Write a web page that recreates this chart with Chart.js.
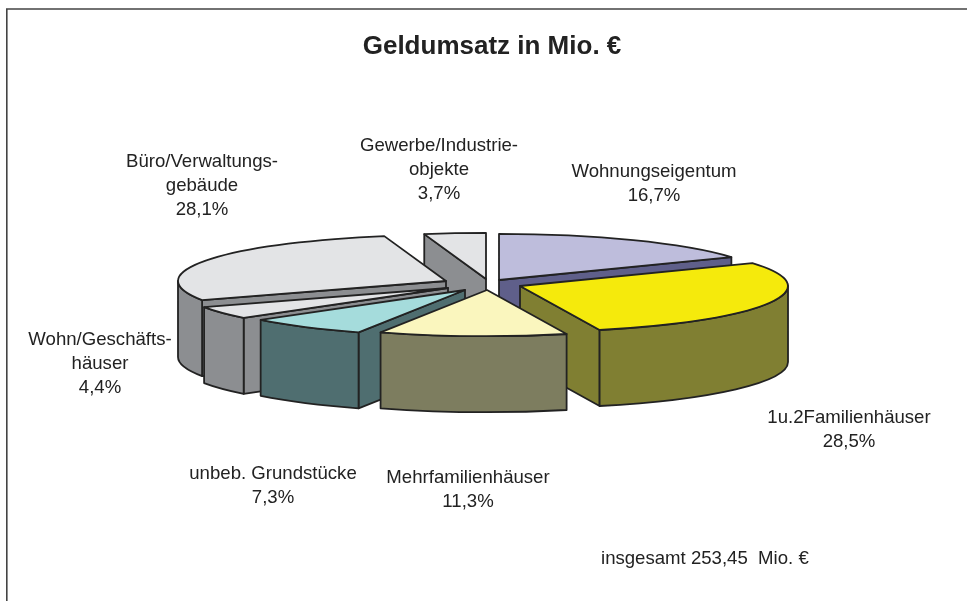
<!DOCTYPE html>
<html><head><meta charset="utf-8">
<style>html,body{margin:0;padding:0;background:#fff}#w{width:967px;height:601px;position:relative}</style>
<script src="https://cdn.jsdelivr.net/npm/chart.js@4"></script>
</head><body><div id="w"><canvas id="c" width="967" height="601"></canvas></div>
<script>
const categories = [["Wohnungseigentum"],["1u.2Familienhäuser"],["Mehrfamilienhäuser"],["unbeb. Grundstücke"],["Wohn/Geschäfts-","häuser"],["Büro/Verwaltungs-","gebäude"],["Gewerbe/Industrie-","objekte"]];
const shares = [16.7,28.5,11.3,7.3,4.4,28.1,3.7];
const titleText = "Geldumsatz in Mio. €";
const noteText = "insgesamt 253,45  Mio. €";
const topColors = ["#BEBDDC","#F5EA0C","#FAF6BE","#A5DCDC","#E3E4E6","#E3E4E6","#E3E4E6"];
const wallColors = ["#5F5F8A","#807F32","#7D7D5F","#4F6E70","#8C8E91","#8C8E91","#8C8E91"];
const explodeX = [12,33,0,-22,-39,-41,-1];
const explodeY = [-5,1,5,5,3,-4,-6];
const labelX = [654,849,468,273,100,202,439];
const labelY = [172,418,478,474,340,162,146];
const paintOrder = [6,0,5,4,1,3,2];
const centerX = 487, centerY = 285, flatten = 0.172, radius = 268, wallDepth = 76;
const outline = "#222222";
const TAU = Math.PI*2, HALF = Math.PI/2;

const pie3d = {
  id:"pie3d",
  beforeDraw(chart){
    const c = chart.ctx;
    c.save(); c.fillStyle="#fff"; c.fillRect(0,0,967,601);
    c.strokeStyle="#444"; c.lineWidth=1.6;
    c.beginPath(); c.moveTo(6.8,601); c.lineTo(6.8,9); c.lineTo(967,9); c.stroke();
    c.restore();
  },
  beforeDatasetDraw(){ return false; },
  afterDatasetsDraw(chart){
    const c = chart.ctx, arcs = chart.getDatasetMeta(0).data;
    c.save();
    c.lineJoin="round"; c.lineWidth=1.8; c.strokeStyle=outline;
    for (const i of paintOrder){
      const a = arcs[i], r = a.outerRadius;
      const ox = centerX+explodeX[i], oy = centerY+explodeY[i];
      const px = t => ox + Math.cos(t)*r;
      const py = t => oy + Math.sin(t)*r*flatten;
      const s = a.startAngle, e = a.endAngle;
      c.fillStyle = wallColors[i];
      const quad = t => {
        c.beginPath(); c.moveTo(ox,oy); c.lineTo(px(t),py(t));
        c.lineTo(px(t),py(t)+wallDepth); c.lineTo(ox,oy+wallDepth); c.closePath();
        c.fill(); c.stroke();
      };
      const sTop = ((s+HALF)%TAU+TAU)%TAU, eTop = ((e+HALF)%TAU+TAU)%TAU;
      if (sTop>Math.PI) quad(s);
      if (eTop>0 && eTop<Math.PI) quad(e);
      const w0 = Math.max(s,0), w1 = Math.min(e,Math.PI);
      if (w1>w0){
        c.beginPath();
        c.ellipse(ox,oy,r,r*flatten,0,w0,w1);
        c.lineTo(px(w1),py(w1)+wallDepth);
        c.ellipse(ox,oy+wallDepth,r,r*flatten,0,w1,w0,true);
        c.closePath(); c.fill(); c.stroke();
      }
      c.save();
      c.translate(ox,oy); c.scale(1,flatten); c.translate(-a.x,-a.y);
      a.draw(c);
      c.restore();
      c.beginPath(); c.moveTo(ox,oy); c.ellipse(ox,oy,r,r*flatten,0,s,e); c.closePath(); c.stroke();
    }
    c.fillStyle="#222"; c.font="18.6px 'Liberation Sans'"; c.textAlign="center"; c.textBaseline="middle";
    categories.forEach((lines,i)=>{
      const pct = shares[i].toFixed(1).replace(".",",")+"%";
      [...lines,pct].forEach((t,j)=>c.fillText(t,labelX[i],labelY[i]+j*24));
    });
    c.textAlign="left";
    c.fillText(noteText,601,559);
    c.restore();
  }
};
new Chart(document.getElementById("c"),{
  type:"pie",
  data:{labels:categories.map(l=>l.join(" ")),datasets:[{data:shares,backgroundColor:topColors,borderWidth:0}]},
  options:{responsive:false,animation:false,radius:radius,layout:{padding:{left:17}},
    plugins:{legend:{display:false},tooltip:{enabled:false},
      title:{display:true,text:titleText,color:"#222",font:{family:"'Liberation Sans'",size:26,weight:"bold"},padding:{top:31,bottom:0}}}},
  plugins:[pie3d]
});
</script></body></html>
